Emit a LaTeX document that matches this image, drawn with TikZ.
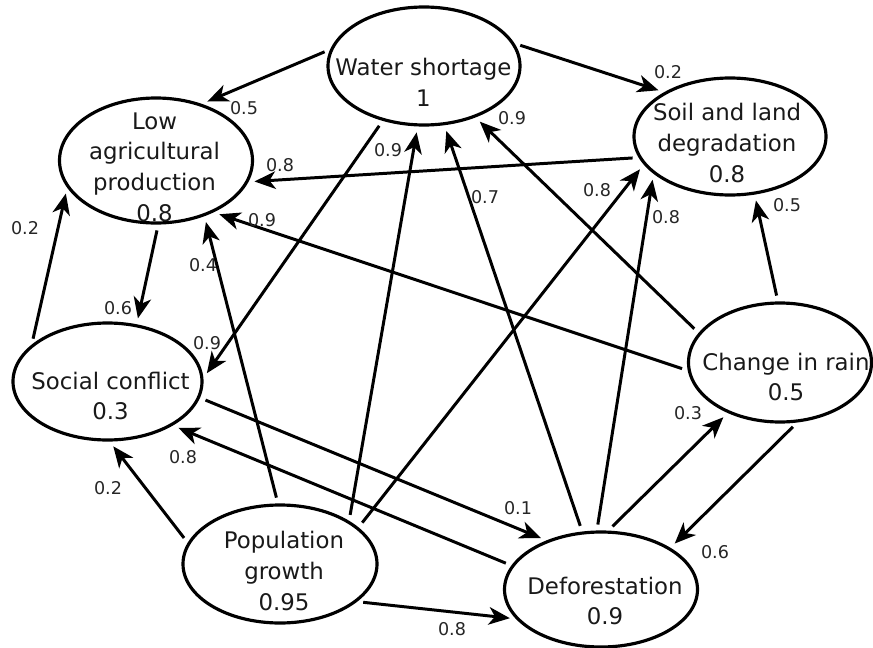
\documentclass[tikz,border=0pt]{standalone}
\usepackage{fontspec}
\setmainfont{DejaVu Sans}
\usetikzlibrary{arrows.meta,shapes.geometric}
\begin{document}
\begin{tikzpicture}[
  bubble/.style={draw, ellipse, line width=1.8pt, inner sep=0pt},
  btext/.style={align=center, font=\fontsize{13}{17.5}\selectfont, inner sep=0pt, text=black!90},
  wlabel/.style={font=\fontsize{10}{12}\selectfont, inner sep=0pt, text=black!85},
  link/.style={line width=1.7pt, -{Stealth[length=12pt,width=10pt,inset=3.5pt]}, shorten >=0.12cm, shorten <=0.12cm}
]
\useasboundingbox (0,0) rectangle (17.46,-12.96);

% ellipses
\node[bubble, minimum width=3.84cm, minimum height=2.36cm] (water)  at (8.48,-1.32)  {};
\node[bubble, minimum width=3.86cm, minimum height=2.50cm] (low)    at (3.12,-3.21)  {};
\node[bubble, minimum width=3.84cm, minimum height=2.34cm] (soil)   at (14.60,-2.73) {};
\node[bubble, minimum width=3.78cm, minimum height=2.34cm] (social) at (2.15,-7.63)  {};
\node[bubble, minimum width=3.66cm, minimum height=2.38cm] (change) at (15.60,-7.25) {};
\node[bubble, minimum width=3.88cm, minimum height=2.36cm] (pop)    at (5.60,-11.28) {};
\node[bubble, minimum width=3.86cm, minimum height=2.30cm] (def)    at (12.02,-11.79){};

% texts
\node[btext] (waterT)  at (8.47,-1.64)  {Water shortage\\1};
\node[btext] (lowT)    at (3.09,-3.34)  {Low\\agricultural\\production\\0.8};
\node[btext] (soilT)   at (14.54,-2.86) {Soil and land\\degradation\\0.8};
\node[btext] (socialT) at (2.21,-7.92)  {Social conflict\\0.3};
\node[btext] (changeT) at (15.72,-7.54) {Change in rain\\0.5};
\node[btext] (popT)    at (5.68,-11.42) {Population\\growth\\0.95};
\node[btext] (defT)    at (12.10,-12.02){Deforestation\\0.9};

% connectors
\draw[link] (water.170)   -- (low.51);
\draw[link] (water.14)    -- (soil.146);
\draw[link] (water.233)   -- (social.2);
\draw[link] (pop.32)      -- (water.264);
\draw[link] (def.108.7)   -- (water.289);
\draw[link] (change.160)  -- (water.315.5);
\draw[link] (soil.193)    -- (low.347);
\draw[link] (change.185.5)-- (low.318);
\draw[link] (pop.92)      -- (low.311);
\draw[link] (low.272)     -- (social.63);
\draw[link] (social.154)  -- (low.197);
\draw[link] (social.350)  -- (def.138);
\draw[link] (def.165)     -- (social.326);
\draw[link] (pop.167)     -- (social.272);
\draw[link] (pop.334)     -- (def.199);
\draw[link] (pop.25)      -- (soil.198);
\draw[link] (def.94.5)    -- (soil.206);
\draw[link] (change.92)   -- (soil.293);
\draw[link] (def.83)      -- (change.224);
\draw[link] (change.286)  -- (def.31);

% weights
\node[wlabel] (l1)  at (4.88,-2.16)   {0.5};
\node[wlabel] (l2)  at (13.36,-1.44)  {0.2};
\node[wlabel] (l3)  at (4.14,-6.86)   {0.9};
\node[wlabel] (l4)  at (7.76,-3.00)   {0.9};
\node[wlabel] (l5)  at (9.70,-3.94)   {0.7};
\node[wlabel] (l6)  at (10.24,-2.36)  {0.9};
\node[wlabel] (l7)  at (5.60,-3.30)   {0.8};
\node[wlabel] (l8)  at (5.24,-4.40)   {0.9};
\node[wlabel] (l9)  at (4.06,-5.30)   {0.4};
\node[wlabel] (l10) at (2.36,-6.16)   {0.6};
\node[wlabel] (l11) at (0.50,-4.56)   {0.2};
\node[wlabel] (l12) at (10.36,-10.16) {0.1};
\node[wlabel] (l13) at (3.66,-9.14)   {0.8};
\node[wlabel] (l14) at (2.16,-9.76)   {0.2};
\node[wlabel] (l15) at (9.04,-12.58)  {0.8};
\node[wlabel] (l16) at (11.94,-3.80)  {0.8};
\node[wlabel] (l17) at (13.32,-4.34)  {0.8};
\node[wlabel] (l18) at (15.74,-4.10)  {0.5};
\node[wlabel] (l19) at (13.76,-8.26)  {0.3};
\node[wlabel] (l20) at (14.30,-11.04) {0.6};
\end{tikzpicture}
\end{document}
